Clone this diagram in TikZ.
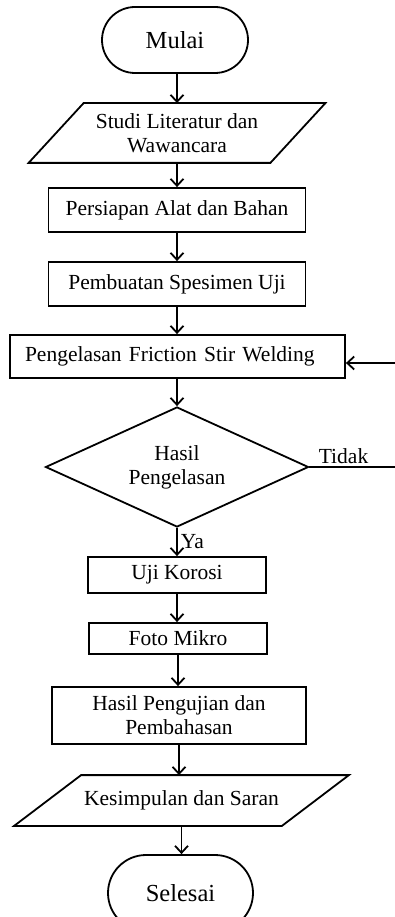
\documentclass[tikz,border=0pt]{standalone}
\usepackage{fontspec}
\setmainfont{Liberation Serif}
\usetikzlibrary{arrows.meta,shapes.geometric}

\tikzset{
  base/.style={line width=1.8pt, inner sep=0pt, font=\fontsize{21.5}{24}\selectfont, align=center},
  term/.style={base, draw, rounded corners=33pt, font=\fontsize{24.5}{26}\selectfont},
  procbox/.style={base, draw},
  iobody/.style={base},
  decide/.style={base, draw, diamond, aspect=2.2, minimum width=263pt, minimum height=120pt},
  lbl/.style={font=\fontsize{21.5}{24}\selectfont, inner sep=0pt},
  arr/.style={line width=1.8pt, -{Straight Barb[length=7pt,width=13pt,line width=1.8pt]}},
  plain/.style={line width=1.8pt}
}

% draw a parallelogram around a body node: #1 node name, #2 horizontal slant
\newcommand{\slantbox}[2]{%
  \draw[line width=1.8pt, line join=miter]
    ([xshift=#2/2]#1.north west) -- ([xshift=#2/2]#1.north east) --
    ([xshift=-#2/2]#1.south east) -- ([xshift=-#2/2]#1.south west) -- cycle;}

\begin{document}
\begin{tikzpicture}[x=1pt, y=-1pt]
  \useasboundingbox[fill=white] (0,0) rectangle (395,917);

  \node[term, minimum width=146pt, minimum height=66pt] (mulai) at (175,40) {Mulai};

  \node[iobody, minimum width=240pt, minimum height=58pt] (studi) at (177,133)
    {Studi Literatur dan\\Wawancara};
  \slantbox{studi}{55pt}

  \node[procbox, minimum width=257pt, minimum height=44pt] (alat) at (177,210)
    {Persiapan Alat dan Bahan};
  \node[procbox, minimum width=257pt, minimum height=44pt] (spes) at (177,284)
    {Pembuatan Spesimen Uji};
  \node[procbox, minimum width=335pt, minimum height=43pt, text width=305pt,
        align=left, inner xsep=15pt] (fsw) at (177.5,356.5)
    {Pengelasan Friction Stir Welding};

  \node[decide] (hasil) at (177,467) {Hasil\\Pengelasan};

  \node[procbox, minimum width=178pt, minimum height=36pt] (korosi) at (177,575) {Uji Korosi};
  \node[procbox, minimum width=178pt, minimum height=31pt] (mikro) at (178,638.5) {Foto Mikro};
  \node[procbox, minimum width=254pt, minimum height=57pt] (bahas) at (179,715.5)
    {Hasil Pengujian dan\\Pembahasan};

  \node[iobody, minimum width=266pt, minimum height=49pt] (saran) at (181.5,800.5)
    {Kesimpulan dan Saran};
  \slantbox{saran}{67pt}

  \node[term, rounded corners=38pt, minimum width=145pt, minimum height=76pt] (selesai) at (180.5,893) {Selesai};

  % main flow
  \draw[arr] (studi.north |- mulai.south) -- (studi.north);
  \draw[arr] (studi.south) -- (studi.south |- alat.north);
  \draw[arr] (alat.south) -- (alat.south |- spes.north);
  \draw[arr] (spes.south) -- (spes.south |- fsw.north);
  \draw[arr] (hasil.north |- fsw.south) -- (hasil.north);
  \draw[arr] (hasil.south) -- (hasil.south |- korosi.north)
    node[lbl, pos=0.5, anchor=west, xshift=3pt] {Ya};
  \draw[arr] (korosi.south) -- (korosi.south |- mikro.north);
  \draw[arr] (mikro.south) -- (mikro.south |- bahas.north);
  \draw[arr] (bahas.south) -- (bahas.south |- saran.north);
  \draw[arr] (saran.south) -- (saran.south |- selesai.north);

  % rework loop back to welding
  \coordinate (loopout) at (395,467);
  \coordinate (loopin) at (395,363);
  \draw[plain] (hasil.east) -- (loopout)
    node[lbl, pos=0.1, anchor=base west, yshift=4pt] {Tidak};
  \draw[arr] (loopin) -- (loopin -| fsw.east);
\end{tikzpicture}
\end{document}
